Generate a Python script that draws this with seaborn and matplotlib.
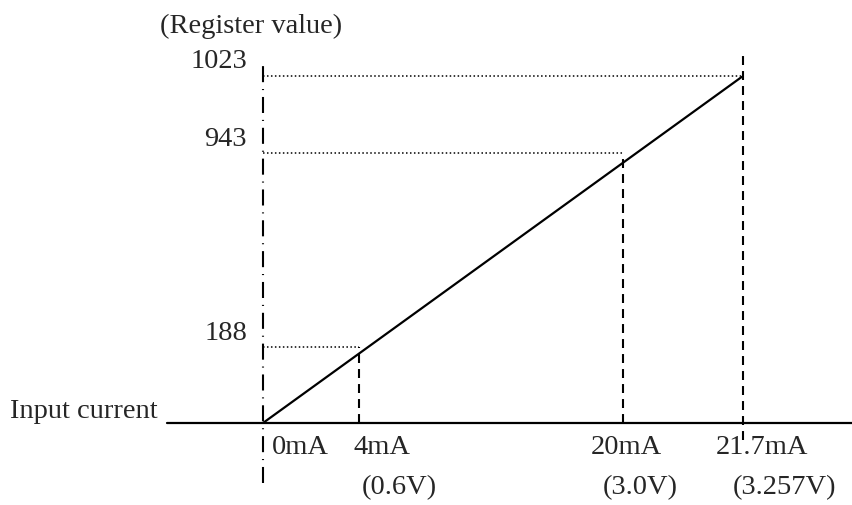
import numpy as np
import pandas as pd
import seaborn as sns
import matplotlib.pyplot as plt

# Values
currents = [0, 4, 20, 21.7]            # mA
current_labels = ['0mA', '4mA', '20mA', '21.7mA']
voltage_labels = ['', '(0.6V)', '(3.0V)', '(3.257V)']
registers = [0, 188, 943, 1023]

# The sketch is not drawn to scale: where each tick sits, in pixels from the origin
x_pos = [0, 96, 360, 480]
y_pos = [0, 76, 270, 347]

# label nudges (pixels) relative to their tick
mA_dx = [9, -6, -32, -27]
volt_dx = [0, 3, -20, -10]

sns.set_theme(style='white')
plt.rcParams['font.family'] = ['Liberation Serif', 'DejaVu Serif']
FS = 20.5


def warp(knots, pos):
    k = np.asarray(knots, float)
    p = np.asarray(pos, float)

    def make(a, b):
        def f(v):
            v = np.asarray(v, float)
            out = np.interp(v, a, b)
            lo = b[0] + (v - a[0]) * (b[1] - b[0]) / (a[1] - a[0])
            hi = b[-1] + (v - a[-1]) * (b[-1] - b[-2]) / (a[-1] - a[-2])
            return np.where(v < a[0], lo, np.where(v > a[-1], hi, out))
        return f
    return make(k, p), make(p, k)


W, H = 853, 505
ox, oy = 263, 423   # origin in figure pixels
fig = plt.figure(figsize=(W / 100, H / 100), dpi=100)
ax = fig.add_axes([ox / W, (H - oy) / H, x_pos[-1] / W, y_pos[-1] / H])
ax.set_xscale('function', functions=warp(currents, x_pos))
ax.set_yscale('function', functions=warp(registers, y_pos))
ax.set_xlim(currents[0], currents[-1])
ax.set_ylim(registers[0], registers[-1])
ax.axis('off')

# transfer line
df = pd.DataFrame({'mA': [currents[0], currents[-1]],
                   'reg': [registers[0], registers[-1]]})
sns.lineplot(data=df, x='mA', y='reg', ax=ax, color='black', lw=1.6)

# axes
ax.axhline(0, xmin=(167 - ox) / x_pos[-1], xmax=(W - ox) / x_pos[-1],
           color='black', lw=1.6, clip_on=False)
ax.axvline(0, ymin=(oy - 483) / y_pos[-1], ymax=(oy - 60) / y_pos[-1],
           color='black', lw=1.5, dashes=(7.7, 3.3, 0.5, 3.3), clip_on=False)

# guide lines
ax.hlines(registers[1:], 0, currents[1:], color='black', lw=1.1,
          linestyles=(0, (1, 1.6)), clip_on=False)
ax.vlines(currents[1:3], 0, registers[1:3], color='black', lw=1.5,
          linestyles=(0, (4.3, 2.9)), clip_on=False)
ax.axvline(currents[-1], ymin=(oy - 440) / y_pos[-1], ymax=(oy - 55) / y_pos[-1],
           color='black', lw=1.5, dashes=(4.3, 2.9), clip_on=False)

# register labels
for r in registers[1:]:
    ax.annotate(str(r), xy=(0, r), xytext=(-16, 14), textcoords='offset pixels',
                ha='right', va='center', fontsize=FS, annotation_clip=False)

# current and voltage labels
for c, lab, v, dx, vdx in zip(currents, current_labels, voltage_labels, mA_dx, volt_dx):
    ax.annotate(lab, xy=(c, 0), xytext=(dx, -25), textcoords='offset pixels',
                ha='left', va='center', fontsize=FS, annotation_clip=False)
    if v:
        ax.annotate(v, xy=(c, 0), xytext=(vdx, -65), textcoords='offset pixels',
                    ha='left', va='center', fontsize=FS, annotation_clip=False)

fig.text(160 / W, 1 - 26 / H, '(Register value)', ha='left', va='center', fontsize=FS)
fig.text(10 / W, 1 - 411 / H, 'Input current', ha='left', va='center', fontsize=FS)

fig.savefig('out.png', dpi=100)
